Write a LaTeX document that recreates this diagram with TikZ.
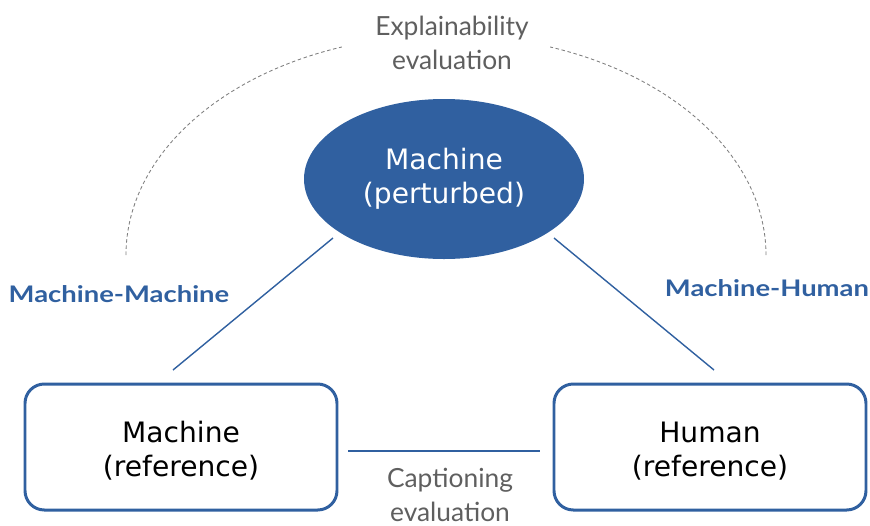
\documentclass[tikz,border=0pt]{standalone}
\usepackage{fontspec}
\setmainfont{DejaVu Sans}
\newfontfamily\latofont{Lato}
\newfontfamily\pairfont[FakeStretch=1.2]{Lato}
\usetikzlibrary{shapes.geometric}
\definecolor{darkblue}{RGB}{48,96,160}
\definecolor{textgray}{RGB}{95,95,95}
\newcommand{\boxlines}[2]{\raisebox{-3.4pt}[\height][\depth]{\begin{tabular}{@{}c@{}}#1\\#2\end{tabular}}}
\begin{document}
\begin{tikzpicture}[x=0.02cm,y=-0.02cm,
            refbox/.style={draw=darkblue, line width=1.7pt, rounded corners=11pt, minimum width=312*0.02cm, minimum height=126*0.02cm, font=\fontsize{16}{19.5}\selectfont},
            evaltext/.style={text=textgray, align=center, font=\latofont\fontsize{15}{19.8}\selectfont},
            pairtext/.style={text=darkblue, font=\pairfont\bfseries\fontsize{13}{15}\selectfont},
            link/.style={draw=darkblue, line width=0.8pt}]
            \useasboundingbox (0,0) rectangle (870,525);
            % nodes
            \node [ellipse, fill=darkblue, text=white, minimum width=280*0.02cm, minimum height=160*0.02cm, align=center, inner sep=0pt, font=\fontsize{16}{19.5}\selectfont] (pert) at (444,179) {Machine\\(perturbed)};
            \node [refbox] (mref) at (181,447) {\boxlines{Machine}{(reference)}};
            \node [refbox] (href) at (710,447) {\boxlines{Human}{(reference)}};
            \node [evaltext] (expl) at (452,43) {Explainability\\evaluation};
            \node [evaltext] (capt) at (450,495) {Captioning\\evaluation};
            \node [pairtext] (mm) at (119,294) {Machine-Machine};
            \node [pairtext] (mh) at (767,288) {Machine-Human};
            % connectors
            \coordinate (pl) at (333,238);
            \coordinate (pr) at (554,238);
            \coordinate (ml) at (173,370);
            \coordinate (hr) at (714,370);
            \coordinate (cl) at (348,451);
            \coordinate (cr) at (540,451);
            \draw [link] (pl) -- (ml);
            \draw [link] (pr) -- (hr);
            \draw [link] (cl) -- (cr);
            % dashed arcs
            \draw [draw=gray, line width=0.5pt, dash pattern=on 2pt off 1.5pt] (126,255) arc [start angle=180, end angle=251, x radius=320, y radius=220];
            \draw [draw=gray, line width=0.5pt, dash pattern=on 2pt off 1.5pt] (766,255) arc [start angle=360, end angle=289, x radius=320, y radius=220];
\end{tikzpicture}
\end{document}
